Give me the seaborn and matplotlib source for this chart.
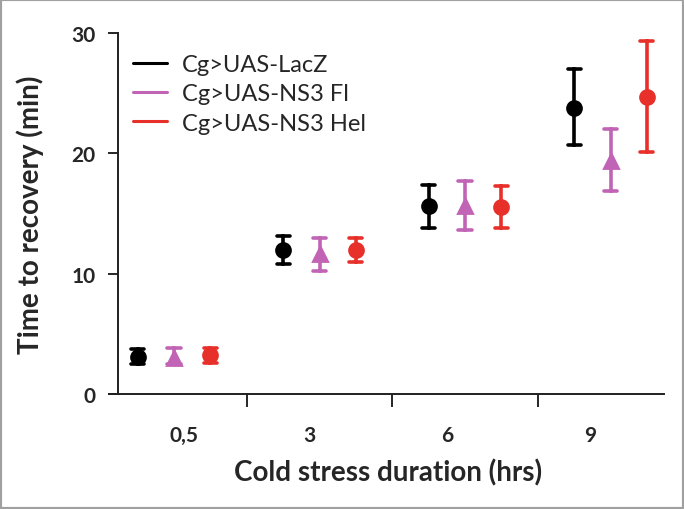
import pandas as pd
import numpy as np
import seaborn as sns
import matplotlib.pyplot as plt
from matplotlib.lines import Line2D
from matplotlib.patches import Rectangle

durations = ["0,5", "3", "6", "9"]
genotypes = ["Cg>UAS-LacZ", "Cg>UAS-NS3 Fl", "Cg>UAS-NS3 Hel"]
colors = ["#000000", "#c264b6", "#e8302a"]

# mean, lower end of error bar, upper end of error bar
lacz_mean = [3.1, 12.0, 15.6, 23.8]
lacz_lo = [2.5, 10.8, 13.8, 20.7]
lacz_hi = [3.7, 13.1, 17.4, 27.0]

fl_mean = [3.0, 11.6, 15.6, 19.4]
fl_lo = [2.5, 10.2, 13.6, 16.9]
fl_hi = [3.8, 13.0, 17.7, 22.0]

hel_mean = [3.2, 12.0, 15.5, 24.7]
hel_lo = [2.6, 11.0, 13.8, 20.1]
hel_hi = [3.8, 13.0, 17.3, 29.3]

rows = []
for g, (m, lo, hi) in zip(genotypes, [(lacz_mean, lacz_lo, lacz_hi),
                                      (fl_mean, fl_lo, fl_hi),
                                      (hel_mean, hel_lo, hel_hi)]):
    for d, a, b, c in zip(durations, lo, m, hi):
        for v in (a, b, c):
            rows.append({"duration": d, "genotype": g, "time": v})
df = pd.DataFrame(rows)

sns.set_style("ticks")
plt.rcParams["font.family"] = ["Lato", "DejaVu Sans"]

fig = plt.figure(figsize=(6.84, 5.10), dpi=100)
ax = fig.add_axes([109 / 684, 1 - 395 / 510, 559 / 684, 361 / 510])

sns.pointplot(data=df, x="duration", y="time", hue="genotype", order=durations,
              hue_order=genotypes, palette=colors, estimator="median",
              errorbar=lambda v: (v.min(), v.max()), dodge=0.5,
              linestyle="none", markers=["o", "^", "o"], markersize=10,
              capsize=0.09, err_kws={"linewidth": 2.6}, ax=ax, legend=False)

for art in ax.get_children():
    try:
        art.set_clip_on(False)
    except Exception:
        pass

ax.set_xlim(-0.447, 3.395)
ax.set_ylim(0, 30)
ax.spines["right"].set_visible(False)
ax.spines["top"].set_visible(False)
ax.spines["left"].set_position(("data", -0.385))
ax.spines["bottom"].set_bounds(-0.447, 3.368)
for s in ["left", "bottom"]:
    ax.spines[s].set_linewidth(1.4)
    ax.spines[s].set_color("#202020")

ax.set_yticks([0, 10, 20, 30])
ax.tick_params(axis="y", length=7, width=1.4, labelsize=15, pad=9)
# category labels sit a bit off the group centres, as in the original
ax.set_xticks([0.07, 0.93, 1.88, 2.86])
ax.set_xticklabels(durations)
ax.tick_params(axis="x", length=0, labelsize=15, pad=22)
ax.set_xticks([0.5, 1.5, 2.5], minor=True)
ax.tick_params(axis="x", which="minor", length=9, width=1.4)
for lab in ax.get_xticklabels() + ax.get_yticklabels():
    lab.set_fontweight("bold")

ax.set_xlabel("Cold stress duration (hrs)", fontsize=20, fontweight="bold", labelpad=10)
ax.set_ylabel("Time to recovery (min)", fontsize=20, fontweight="bold", labelpad=20)

handles = [Line2D([], [], color=c, lw=2.2) for c in colors]
ax.legend(handles, genotypes, loc="upper left", bbox_to_anchor=(133 / 684, 1 - 55 / 510),
          bbox_transform=fig.transFigure, frameon=False, fontsize=17,
          borderpad=0, borderaxespad=0, handlelength=1.45, handletextpad=0.62,
          labelspacing=0.35)

fig.patches.append(Rectangle((0, 0), 1, 1, transform=fig.transFigure, fill=False,
                             edgecolor="#a0a0a0", linewidth=3))

fig.savefig("out.png", dpi=100)
